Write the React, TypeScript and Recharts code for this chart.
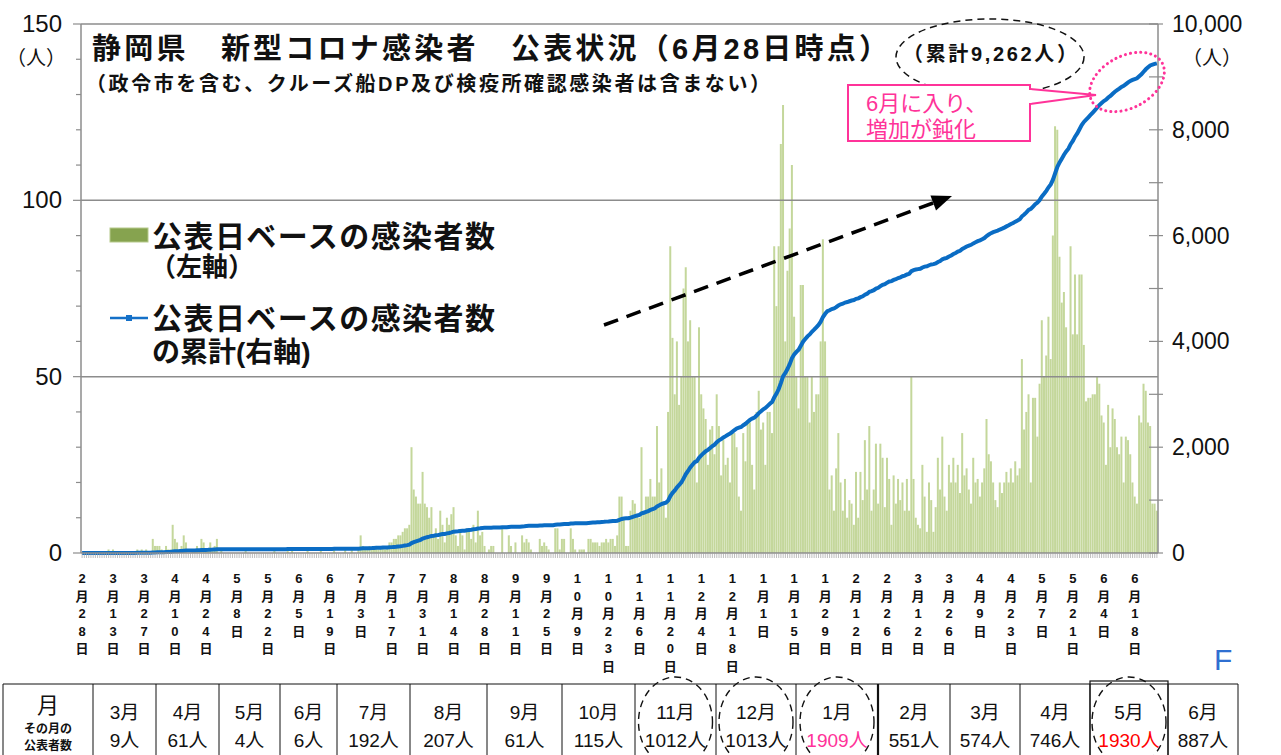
import React from 'react';
import { ComposedChart, Bar, Line, XAxis, YAxis, ReferenceLine } from 'recharts';

const FONT = "'Liberation Sans', 'Noto Sans CJK JP', sans-serif";

// ── daily counts (公表日ベース), one array per month ─────────────────────────
const FEB_20 = [0, 0]; // 2/28 - 2/29
const MAR_20 = [0, 0, 0, 0, 0, 0, 0, 0, 0, 0, 1, 0, 1, 0, 0, 0, 0, 0, 0, 0, 0, 0, 0, 1, 0, 1, 0, 1, 0, 0, 4];
const APR_20 = [2, 2, 2, 1, 0, 2, 1, 1, 8, 4, 3, 1, 2, 5, 3, 0, 0, 1, 1, 2, 1, 4, 3, 1, 1, 3, 1, 2, 4, 0];
const MAY_20 = [1, 0, 0, 0, 0, 0, 0, 0, 0, 0, 0, 1, 0, 0, 0, 0, 0, 0, 0, 0, 0, 0, 0, 0, 1, 0, 0, 0, 0, 0, 1];
const JUN_20 = [0, 1, 0, 0, 0, 0, 0, 0, 1, 0, 0, 0, 0, 0, 1, 0, 0, 0, 0, 0, 1, 0, 0, 0, 0, 1, 0, 0, 1, 0];
const JUL_20 = [0, 1, 5, 2, 1, 1, 2, 1, 2, 2, 1, 2, 2, 1, 2, 3, 3, 4, 4, 5, 5, 6, 7, 7, 8, 30, 18, 16, 14, 14, 23];
const AUG_20 = [14, 13, 10, 13, 5, 7, 4, 12, 8, 3, 10, 8, 11, 13, 5, 2, 6, 5, 1, 7, 7, 4, 8, 3, 12, 5, 6, 2, 0, 1, 2];
const SEP_20 = [2, 0, 0, 0, 7, 0, 0, 5, 2, 0, 3, 0, 0, 5, 3, 4, 3, 1, 0, 0, 0, 4, 2, 3, 2, 1, 0, 0, 7, 7];
const OCT_20 = [1, 4, 4, 0, 0, 7, 4, 1, 0, 1, 1, 1, 0, 4, 4, 3, 3, 3, 2, 3, 3, 4, 3, 4, 4, 2, 5, 16, 16, 10, 2];
const NOV_20 = [2, 12, 15, 14, 11, 10, 30, 12, 16, 16, 21, 16, 16, 36, 20, 24, 14, 10, 40, 87, 61, 45, 60, 42, 50, 75, 81, 60, 66, 50];
const DEC_20 = [50, 20, 64, 45, 41, 38, 25, 35, 36, 28, 45, 36, 22, 32, 25, 27, 20, 34, 34, 30, 16, 12, 34, 26, 37, 37, 25, 18, 40, 46, 35];
const JAN_21 = [37, 25, 40, 40, 34, 87, 70, 87, 116, 127, 60, 80, 92, 110, 67, 50, 41, 76, 76, 50, 50, 37, 50, 40, 45, 45, 60, 89, 60, 50, 18];
const FEB_21 = [22, 12, 24, 34, 20, 12, 21, 10, 15, 14, 8, 23, 10, 23, 15, 32, 18, 36, 12, 18, 31, 14, 31, 27, 13, 27, 21, 8];
const MAR_21 = [22, 14, 21, 15, 20, 12, 21, 12, 50, 21, 10, 8, 7, 25, 16, 6, 20, 15, 6, 13, 27, 18, 33, 16, 12, 25, 20, 27, 20, 25, 17];
const APR_21 = [34, 22, 24, 18, 14, 27, 20, 21, 16, 20, 24, 38, 28, 26, 20, 15, 13, 20, 17, 20, 23, 20, 24, 20, 26, 22, 24, 55, 35, 40];
const MAY_21 = [45, 20, 44, 44, 33, 48, 66, 50, 56, 67, 55, 90, 121, 120, 84, 71, 74, 64, 50, 87, 62, 79, 62, 79, 79, 59, 43, 44, 44, 45, 45];
const JUN_21 = [50, 48, 39, 37, 25, 42, 30, 41, 38, 30, 28, 33, 20, 33, 32, 28, 20, 16, 14, 39, 37, 48, 46, 37, 36, 14, 14, 12];

const MONTHS = [
    { month: 2, firstDay: 28, counts: FEB_20 },
    { month: 3, firstDay: 1, counts: MAR_20 },
    { month: 4, firstDay: 1, counts: APR_20 },
    { month: 5, firstDay: 1, counts: MAY_20 },
    { month: 6, firstDay: 1, counts: JUN_20 },
    { month: 7, firstDay: 1, counts: JUL_20 },
    { month: 8, firstDay: 1, counts: AUG_20 },
    { month: 9, firstDay: 1, counts: SEP_20 },
    { month: 10, firstDay: 1, counts: OCT_20 },
    { month: 11, firstDay: 1, counts: NOV_20 },
    { month: 12, firstDay: 1, counts: DEC_20 },
    { month: 1, firstDay: 1, counts: JAN_21 },
    { month: 2, firstDay: 1, counts: FEB_21 },
    { month: 3, firstDay: 1, counts: MAR_21 },
    { month: 4, firstDay: 1, counts: APR_21 },
    { month: 5, firstDay: 1, counts: MAY_21 },
    { month: 6, firstDay: 1, counts: JUN_21 },
];

// ── table under the chart ───────────────────────────────────────────────────
const TABLE_MONTHS = ['3月', '4月', '5月', '6月', '7月', '8月', '9月', '10月', '11月', '12月', '1月', '2月', '3月', '4月', '5月', '6月'];
const TABLE_TOTALS = [9, 61, 4, 6, 192, 207, 61, 115, 1012, 1013, 1909, 551, 574, 746, 1930, 887];
const TABLE_CIRCLED = [8, 9, 10, 14]; // 11月, 12月, 1月, 5月

// ── axes ────────────────────────────────────────────────────────────────────
const LEFT_TICKS = [0, 10, 20, 30, 40, 50, 60, 70, 80, 90, 100, 110, 120, 130, 140, 150];
const LEFT_LABELS = [0, 50, 100, 150];
const RIGHT_TICKS = [0, 1000, 2000, 3000, 4000, 5000, 6000, 7000, 8000, 9000, 10000];
const RIGHT_LABELS = [0, 2000, 4000, 6000, 8000, 10000];

const buildData = () => {
    let cum = 0;
    const rows: { label: string; count: number; cum: number }[] = [];
    MONTHS.forEach(({ month, firstDay, counts }) => {
        counts.forEach((c, i) => {
            cum += c;
            rows.push({ label: `${month}月${firstDay + i}日`, count: c, cum });
        });
    });
    return rows;
};

const DATA = buildData();

const PLOT_LEFT = 81;
const PLOT_RIGHT = 1158;
const PLOT_BOTTOM = 553;

// vertical date labels, one every 14 days, small mark every day
const DateTick = (props: any) => {
    const { x, payload } = props;
    const i = payload?.index ?? props.index;
    const mark = <line x1={x} x2={x} y1={PLOT_BOTTOM} y2={PLOT_BOTTOM + 5} stroke="#a0a0a0" strokeWidth={0.7} />;
    if (i % 14 !== 0) return mark;
    const chars = Array.from(String(payload.value));
    return (
        <g>
            {mark}
            <text textAnchor="middle" fontSize={13} fontWeight="bold" fill="#111" fontFamily={FONT}>
                {chars.map((ch, k) => (
                    <tspan key={k} x={x} y={583 + k * 17.6}>{ch}</tspan>
                ))}
            </text>
        </g>
    );
};

const LeftTick = (props: any) => {
    const { y, payload } = props;
    const v = payload.value;
    const major = LEFT_LABELS.includes(v);
    return (
        <g>
            <line x1={PLOT_LEFT - (major ? 8 : 5)} x2={PLOT_LEFT} y1={y} y2={y} stroke="#8c8c8c" strokeWidth={1.2} />
            {major && (
                <text x={62} y={y + 8} textAnchor="end" fontSize={24} fill="#111" fontFamily={FONT}>{v}</text>
            )}
        </g>
    );
};

const RightTick = (props: any) => {
    const { y, payload } = props;
    const v = payload.value;
    return (
        <g>
            <line x1={PLOT_RIGHT - 9} x2={PLOT_RIGHT + 5} y1={y} y2={y} stroke="#8c8c8c" strokeWidth={1.2} />
            {RIGHT_LABELS.includes(v) && (
                <text x={1172} y={y + 8} textAnchor="start" fontSize={23} fill="#111" fontFamily={FONT}>
                    {v.toLocaleString('en-US')}
                </text>
            )}
        </g>
    );
};

const COL_X = [3, 93, 156, 219, 280, 337, 410, 487, 562, 635, 716, 796, 878, 950, 1020, 1090, 1168, 1238];

const Overlay = () => {
    // arrow head along the dashed trend arrow
    const tip = [952, 196];
    const from = [604, 325];
    const len = Math.hypot(tip[0] - from[0], tip[1] - from[1]);
    const d = [(tip[0] - from[0]) / len, (tip[1] - from[1]) / len];
    const n = [-d[1], d[0]];
    const base = [tip[0] - 20 * d[0], tip[1] - 20 * d[1]];
    const head = `${tip[0]},${tip[1]} ${base[0] + 8 * n[0]},${base[1] + 8 * n[1]} ${base[0] - 8 * n[0]},${base[1] - 8 * n[1]}`;

    return (
        <svg width={1281} height={755} style={{ position: 'absolute', left: 0, top: 0 }} fontFamily={FONT}>
            {/* axis units */}
            <text x={36} y={65} textAnchor="middle" fontSize={20} fill="#111">（人）</text>
            <text x={1212} y={65} textAnchor="middle" fontSize={20} fill="#111">（人）</text>

            {/* title */}
            <text x={92} y={59} fontSize={29} fontWeight="bold" fill="#111" textLength={796} lengthAdjust="spacing">
                静岡県　新型コロナ感染者　公表状況（6月28日時点）
            </text>
            <text x={86} y={91} fontSize={20} fontWeight="bold" fill="#111" textLength={684} lengthAdjust="spacing">
                （政令市を含む、クルーズ船DP及び検疫所確認感染者は含まない）
            </text>

            {/* cumulative total */}
            <ellipse cx={990} cy={57} rx={94} ry={38} fill="none" stroke="#111" strokeWidth={1.5} strokeDasharray="7 5" />
            <text x={903} y={61} fontSize={20} fontWeight="bold" fill="#111" textLength={174} lengthAdjust="spacing">（累計9,262人）</text>

            {/* June call-out */}
            <ellipse cx={1127} cy={82} rx={40} ry={26} transform="rotate(-28 1127 82)" fill="none"
                     stroke="#ff3399" strokeWidth={3} strokeDasharray="0.1 5" strokeLinecap="round" />
            <polyline points="1030,89 1096,95 1030,104" fill="#fff" stroke="#ff3399" strokeWidth={2} />
            <rect x={848} y={85} width={182} height={56} fill="#fff" stroke="#ff3399" strokeWidth={2} />
            <line x1={1030} y1={90} x2={1030} y2={103} stroke="#fff" strokeWidth={3} />
            <text x={866} y={111} fontSize={22} fill="#ff3399">6月に入り、</text>
            <text x={866} y={137} fontSize={22} fill="#ff3399">増加が鈍化</text>

            {/* trend arrow */}
            <line x1={from[0]} y1={from[1]} x2={base[0]} y2={base[1]} stroke="#000" strokeWidth={3.5} strokeDasharray="15 9" />
            <polygon points={head} fill="#000" />

            {/* legend */}
            <rect x={110} y={228} width={38} height={14} fill="#86a34f" stroke="#b6c98c" strokeWidth={1} />
            <text x={152} y={247} fontSize={30} fontWeight="bold" fill="#111" textLength={343} lengthAdjust="spacing">公表日ベースの感染者数</text>
            <text x={150} y={276} fontSize={26} fontWeight="bold" fill="#111">（左軸）</text>
            <line x1={110} y1={318} x2={148} y2={318} stroke="#1470c8" strokeWidth={2.5} />
            <rect x={126} y={315} width={6} height={6} fill="#1470c8" />
            <text x={152} y={329} fontSize={30} fontWeight="bold" fill="#111" textLength={343} lengthAdjust="spacing">公表日ベースの感染者数</text>
            <text x={152} y={362} fontSize={28} fontWeight="bold" fill="#111">の累計(右軸)</text>

            <text x={1214} y={670} fontSize={30} fill="#2f6fd1">F</text>

            {/* monthly table */}
            <line x1={COL_X[0]} x2={COL_X[COL_X.length - 1]} y1={684} y2={684} stroke="#111" strokeWidth={1} />
            {COL_X.map((x, i) => (
                <line key={i} x1={x} x2={x} y1={684} y2={755} stroke="#111" strokeWidth={x === 878 ? 2.2 : 1} />
            ))}
            <rect x={1090} y={681} width={78} height={80} fill="none" stroke="#111" strokeWidth={1.2} />
            <text x={48} y={713} textAnchor="middle" fontSize={22} fill="#111">月</text>
            <text x={48} y={733} textAnchor="middle" fontSize={12} fontWeight="bold" fill="#111">その月の</text>
            <text x={48} y={750} textAnchor="middle" fontSize={12} fontWeight="bold" fill="#111">公表者数</text>
            {TABLE_MONTHS.map((m, i) => {
                const cx = (COL_X[i + 1] + COL_X[i + 2]) / 2;
                const color = i === 10 ? '#ff3399' : i === 14 ? '#ff0000' : '#111';
                return (
                    <g key={i}>
                        <text x={cx} y={719} textAnchor="middle" fontSize={19} fill="#111">{m}</text>
                        <text x={cx} y={747} textAnchor="middle" fontSize={19} fill={color}>{TABLE_TOTALS[i]}人</text>
                        {TABLE_CIRCLED.includes(i) && (
                            <ellipse cx={cx} cy={722} rx={37} ry={45} fill="none" stroke="#111" strokeWidth={1.4} strokeDasharray="7 5" />
                        )}
                    </g>
                );
            })}
        </svg>
    );
};

export default function App() {
    return (
        <div style={{ position: 'absolute', left: 0, top: 0, width: 1281, height: 755, background: '#fff', overflow: 'hidden' }}>
            <ComposedChart width={1281} height={680} data={DATA} barCategoryGap={0} barGap={0}
                           margin={{ top: 24, right: 0, left: 0, bottom: 0 }}>
                <XAxis dataKey="label" interval={0} tick={<DateTick />} tickLine={false} height={127}
                       axisLine={{ stroke: '#8c8c8c', strokeWidth: 1.5 }} />
                <YAxis yAxisId="left" width={PLOT_LEFT} domain={[0, 150]} ticks={LEFT_TICKS} interval={0}
                       tick={<LeftTick />} tickLine={false} axisLine={{ stroke: '#8c8c8c', strokeWidth: 1.5 }} />
                <YAxis yAxisId="right" orientation="right" width={1281 - PLOT_RIGHT} domain={[0, 10000]} ticks={RIGHT_TICKS}
                       interval={0} tick={<RightTick />} tickLine={false} axisLine={{ stroke: '#8c8c8c', strokeWidth: 1.5 }} />
                <ReferenceLine yAxisId="left" y={50} stroke="#8c8c8c" strokeWidth={1.5} />
                <ReferenceLine yAxisId="left" y={100} stroke="#8c8c8c" strokeWidth={1.5} />
                <ReferenceLine yAxisId="left" y={150} stroke="#8c8c8c" strokeWidth={1.5} />
                <Bar yAxisId="left" dataKey="count" fill="#c4d79b" isAnimationActive={false} />
                <Line yAxisId="right" dataKey="cum" type="linear" stroke="#0a6cc4" strokeWidth={4} dot={false}
                      isAnimationActive={false} />
            </ComposedChart>
            <Overlay />
        </div>
    );
}
